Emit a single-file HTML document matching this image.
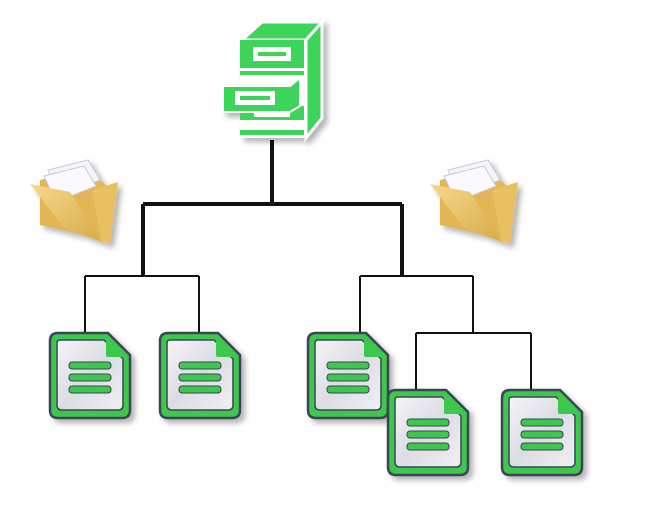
<!DOCTYPE html>
<html><head><meta charset="utf-8"><style>html,body{margin:0;padding:0;background:#fff;width:648px;height:509px;overflow:hidden}</style></head>
<body>
<svg width="648" height="509" viewBox="0 0 648 509" xmlns="http://www.w3.org/2000/svg">
<defs>
<linearGradient id="pg" x1="0" y1="0" x2="1" y2="1"><stop offset="0" stop-color="#f4f4f8"/><stop offset="0.5" stop-color="#dcdce4"/><stop offset="1" stop-color="#f0f0f4"/></linearGradient>
<linearGradient id="fg" x1="0" y1="0" x2="1" y2="1"><stop offset="0" stop-color="#f5d98a"/><stop offset="1" stop-color="#d9a94a"/></linearGradient>
<filter id="sh" x="-20%" y="-20%" width="150%" height="150%"><feGaussianBlur in="SourceAlpha" stdDeviation="3"/><feOffset dx="4" dy="4"/><feComponentTransfer><feFuncA type="linear" slope="0.3"/></feComponentTransfer><feMerge><feMergeNode/><feMergeNode in="SourceGraphic"/></feMerge></filter>
<g id="doc">
<path d="M8 0 H58 L80 22 V77 Q80 85 72 85 H8 Q0 85 0 77 V8 Q0 0 8 0 Z" fill="#3ec84e" stroke="#3a4456" stroke-width="2.5"/>
<path d="M10 7 H54 L73 26 V72 Q73 77 68 77 H12 Q7 77 7 72 V10 Q7 7 10 7 Z" fill="url(#pg)" stroke="#3a4456" stroke-width="1.5"/>
<path d="M56 5 L75 24 H58 Q56 24 56 22 Z" fill="#3ec84e"/>
<rect x="19" y="29" width="42" height="7" rx="3" fill="#3ec84e" stroke="#3a4456" stroke-width="1"/>
<rect x="19" y="41" width="42" height="7" rx="3" fill="#3ec84e" stroke="#3a4456" stroke-width="1"/>
<rect x="19" y="53" width="42" height="7" rx="3" fill="#3ec84e" stroke="#3a4456" stroke-width="1"/>
</g>
<g id="folder">
<path d="M10 20 L60 8 L78 28 L75 80 L10 65 Z" fill="#e2b555"/>
<path d="M18 10 L58 0 L70 20 L30 36 Z" fill="#f4f4fa" stroke="#c8cad8" stroke-width="1"/>
<path d="M14 16 L54 6 L66 26 L26 42 Z" fill="#fafafe" stroke="#c8cad8" stroke-width="1"/>
<path d="M0 24 L40 32 L72 82 L34 68 Z" fill="url(#fg)"/>
<path d="M62 30 L88 22 L80 84 L72 82 Z" fill="#e8c060"/>
</g>
</defs>
<g stroke="#111" fill="none">
<path d="M272 140 V204 M143 204 H402 M143 204 V276 M402 204 V276" stroke-width="4"/>
<path d="M85 276 H199 M85 276 V333 M199 276 V333 M360 276 H473 M360 276 V333 M473 276 V333 M416 333 H531 M416 333 V390 M531 333 V390" stroke-width="2"/>
</g>
<g filter="url(#sh)">
<use href="#doc" x="50" y="333"/>
<use href="#doc" x="160" y="333"/>
<use href="#doc" x="308" y="333"/>
<use href="#doc" x="388" y="390"/>
<use href="#doc" x="502" y="390"/>
<use href="#folder" x="30" y="160"/>
<use href="#folder" x="430" y="160"/>
<g>
<path d="M242 40 L262 22 H322 L306 40 Z" fill="#3dd45a" stroke="#fff" stroke-width="3"/>
<path d="M306 40 L322 22 V118 L306 138 Z" fill="#3dd45a" stroke="#fff" stroke-width="3"/>
<rect x="240" y="40" width="66" height="98" fill="#fff"/>
<rect x="240" y="40" width="64" height="28" fill="#3dd45a"/>
<rect x="253" y="47" width="38" height="14" fill="#fff"/>
<rect x="258" y="52" width="28" height="4" fill="#3dd45a"/>
<rect x="240" y="71" width="64" height="4" fill="#3dd45a"/>
<rect x="240" y="106" width="64" height="14" fill="#3dd45a"/>
<rect x="254" y="111" width="36" height="6" fill="#fff"/>
<rect x="240" y="130" width="64" height="5" fill="#3dd45a"/>
<path d="M223 86 H290 L300 78 V106 L290 112 H223 Z" fill="#3dd45a" stroke="#fff" stroke-width="2"/>
<rect x="235" y="91" width="40" height="14" fill="#fff"/>
<rect x="240" y="96" width="30" height="4" fill="#3dd45a"/>
</g>
</g>
</svg>
</body></html>
